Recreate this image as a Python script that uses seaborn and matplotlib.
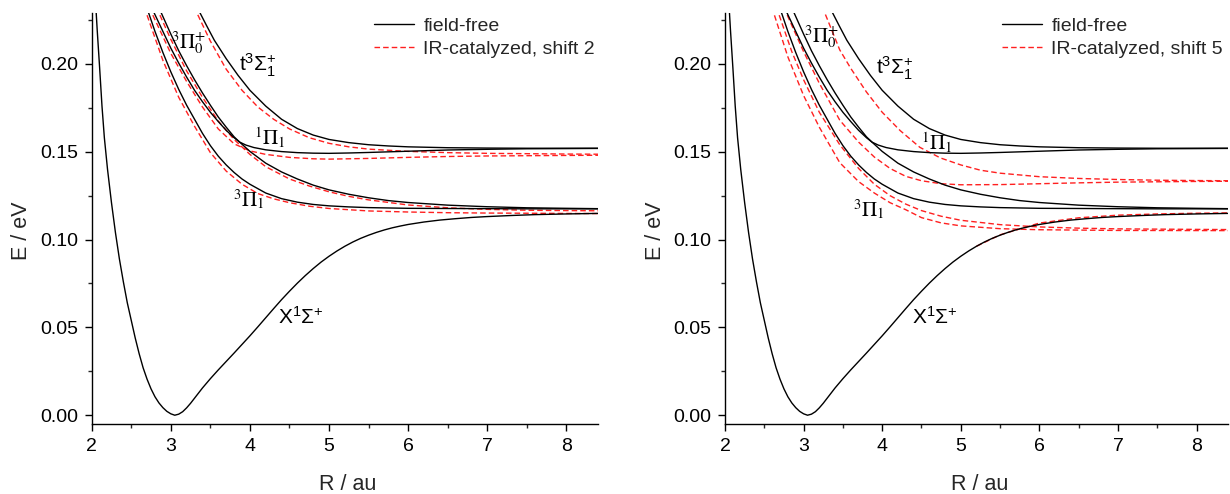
import matplotlib
matplotlib.use("Agg")
import matplotlib.pyplot as plt
import seaborn as sns
from matplotlib.lines import Line2D
from matplotlib.ticker import MultipleLocator, FormatStrFormatter

# ---------------- data ----------------
# ground state X1Sigma+ (same in both panels)
R_X = [2.04, 2.07, 2.1, 2.13, 2.16, 2.2, 2.25, 2.3, 2.35, 2.4, 2.45, 2.5, 2.55, 2.6, 2.65,
       2.7, 2.75, 2.8, 2.85, 2.9, 2.95, 3.0, 3.05, 3.1, 3.15, 3.2, 3.25, 3.3, 3.4, 3.5, 3.6,
       3.7, 3.8, 3.9, 4.0, 4.1, 4.2, 4.3, 4.4, 4.5, 4.6, 4.7, 4.8, 4.9, 5.0, 5.1, 5.2, 5.3,
       5.4, 5.5, 5.6, 5.7, 5.8, 5.9, 6.0, 6.2, 6.4, 6.6, 6.8, 7.0, 7.3, 7.6, 8.0, 8.4]
E_X = [0.242, 0.219, 0.198, 0.176, 0.158, 0.140, 0.121, 0.104, 0.089, 0.076, 0.064, 0.054,
       0.044, 0.035, 0.027, 0.0205, 0.015, 0.0105, 0.007, 0.0043, 0.0022, 0.0008, 0.0,
       0.0006, 0.002, 0.0042, 0.0068, 0.0097, 0.0155, 0.0208, 0.0258, 0.0306, 0.0354,
       0.0403, 0.0452, 0.0503, 0.0555, 0.0607, 0.0658, 0.0706, 0.0752, 0.0795, 0.0835,
       0.0872, 0.0905, 0.0935, 0.0962, 0.0986, 0.1007, 0.1025, 0.1041, 0.1055, 0.1067,
       0.1077, 0.1086, 0.110, 0.1111, 0.1119, 0.1126, 0.1131, 0.1137, 0.1142, 0.1146, 0.1149]

# field-free excited states
R_t = [3.25, 3.3, 3.37, 3.45, 3.55, 3.7, 3.85, 4.0, 4.2, 4.4, 4.6, 4.8, 5.0, 5.25, 5.5, 5.75,
       6.0, 6.5, 7.0, 7.5, 8.0, 8.4]
E_t = [0.240, 0.235, 0.229, 0.222, 0.2135, 0.203, 0.1935, 0.185, 0.176, 0.1685, 0.1632,
       0.1595, 0.157, 0.1552, 0.154, 0.1533, 0.1528, 0.1523, 0.1521, 0.152, 0.152, 0.152]

R_1P = [2.7, 2.79, 2.9, 3.0, 3.1, 3.2, 3.3, 3.4, 3.5, 3.6, 3.7, 3.8, 3.87, 3.95, 4.05, 4.2,
        4.4, 4.6, 4.8, 5.0, 5.25, 5.5, 6.0, 6.5, 7.0, 7.5, 8.0, 8.4]
E_1P = [0.238, 0.229, 0.2185, 0.209, 0.2005, 0.1925, 0.185, 0.1785, 0.1725, 0.1672, 0.1622,
        0.158, 0.1555, 0.1538, 0.1524, 0.1511, 0.1501, 0.1495, 0.1492, 0.1491, 0.1493,
        0.1496, 0.1503, 0.151, 0.1514, 0.1517, 0.1518, 0.1519]

R_3P0 = [2.8, 2.88, 3.0, 3.1, 3.2, 3.3, 3.4, 3.5, 3.6, 3.7, 3.8, 3.87, 4.0, 4.2, 4.4, 4.6,
         4.8, 5.0, 5.25, 5.5, 5.75, 6.0, 6.5, 7.0, 7.5, 8.0, 8.4]
E_3P0 = [0.238, 0.229, 0.217, 0.2075, 0.199, 0.191, 0.1835, 0.1765, 0.1698, 0.164, 0.1585,
         0.1555, 0.1502, 0.1435, 0.1385, 0.1345, 0.131, 0.1283, 0.1258, 0.1238, 0.1222,
         0.1211, 0.1196, 0.1187, 0.1181, 0.1178, 0.1176]

R_3P1 = [2.62, 2.72, 2.8, 2.9, 3.0, 3.1, 3.2, 3.3, 3.4, 3.5, 3.6, 3.7, 3.8, 3.9, 4.0, 4.2,
         4.4, 4.6, 4.8, 5.0, 5.25, 5.5, 6.0, 6.5, 7.0, 7.5, 8.0, 8.4]
E_3P1 = [0.242, 0.229, 0.2185, 0.2065, 0.1955, 0.1855, 0.1765, 0.1685, 0.1605, 0.1535,
         0.1475, 0.1425, 0.1382, 0.1345, 0.1315, 0.1265, 0.1233, 0.1213, 0.12, 0.1192,
         0.1186, 0.1182, 0.1178, 0.1177, 0.1176, 0.1175, 0.1175, 0.1175]

# IR-catalyzed, shift 2 (left panel)
R_s2_t = [3.2, 3.33, 3.5, 3.7, 3.9, 4.1, 4.3, 4.5, 4.75, 5.0, 5.25, 5.5, 6.0, 6.5, 7.0, 8.0, 8.4]
E_s2_t = [0.243, 0.229, 0.213, 0.197, 0.185, 0.1755, 0.1685, 0.163, 0.158, 0.1548, 0.1528,
          0.1515, 0.1502, 0.1495, 0.1491, 0.1487, 0.1486]
R_s2_1P = [2.65, 2.76, 3.0, 3.2, 3.4, 3.6, 3.8, 4.0, 4.2, 4.5, 4.8, 5.0, 5.5, 6.0, 6.5, 7.0,
           8.0, 8.4]
E_s2_1P = [0.243, 0.229, 0.206, 0.190, 0.1755, 0.163, 0.1545, 0.1505, 0.1485, 0.1468, 0.146,
           0.1458, 0.1462, 0.1468, 0.1473, 0.1476, 0.1479, 0.148]
R_s2_3P0 = [2.74, 2.85, 3.0, 3.2, 3.4, 3.6, 3.8, 4.0, 4.2, 4.5, 4.75, 5.0, 5.25, 5.5, 6.0, 6.5,
            7.0, 7.5, 8.0, 8.4]
E_s2_3P0 = [0.243, 0.229, 0.214, 0.196, 0.181, 0.1675, 0.157, 0.1485, 0.1415, 0.1345, 0.1305,
            0.1272, 0.1246, 0.1226, 0.1197, 0.1181, 0.1172, 0.1167, 0.1165, 0.1164]
R_s2_3P1 = [2.58, 2.69, 2.9, 3.1, 3.3, 3.5, 3.7, 3.9, 4.1, 4.3, 4.5, 4.75, 5.0, 5.5, 6.0, 6.5,
            7.0, 8.4]
E_s2_3P1 = [0.243, 0.229, 0.202, 0.181, 0.1645, 0.1495, 0.139, 0.1315, 0.1262, 0.1232, 0.121,
            0.119, 0.1177, 0.1163, 0.1157, 0.1153, 0.1151, 0.1148]

# IR-catalyzed, shift 5 (right panel)
R_s5_t = [3.15, 3.27, 3.46, 3.6, 3.8, 4.0, 4.23, 4.48, 4.74, 5.0, 5.25, 5.5, 6.0, 6.5, 7.0,
          7.5, 8.0, 8.4]
E_s5_t = [0.240, 0.229, 0.208, 0.1975, 0.184, 0.1725, 0.162, 0.1525, 0.1465, 0.1425, 0.1395,
          0.1378, 0.1358, 0.1348, 0.1342, 0.1338, 0.1336, 0.1335]
R_s5_1P = [2.65, 2.78, 3.0, 3.2, 3.46, 3.7, 3.9, 4.1, 4.3, 4.5, 4.75, 5.0, 5.5, 6.0, 6.5, 7.0,
           8.0, 8.4]
E_s5_1P = [0.245, 0.229, 0.207, 0.189, 0.168, 0.1555, 0.147, 0.1405, 0.136, 0.1335, 0.1318,
           0.1312, 0.1313, 0.1318, 0.1323, 0.1327, 0.1331, 0.1332]
R_s5_3P0 = [2.55, 2.68, 2.85, 3.0, 3.2, 3.46, 3.7, 3.9, 4.1, 4.3, 4.5, 4.75, 5.0, 5.5, 6.0,
            6.5, 7.0, 8.0, 8.4]
E_s5_3P0 = [0.245, 0.229, 0.207, 0.191, 0.1725, 0.154, 0.1405, 0.1315, 0.125, 0.1202, 0.1165,
            0.1133, 0.111, 0.1085, 0.1072, 0.1065, 0.1061, 0.1058, 0.1057]
R_s5_3P1 = [2.5, 2.62, 2.8, 3.0, 3.2, 3.46, 3.7, 3.9, 4.1, 4.3, 4.5, 4.75, 5.0, 5.5, 6.0, 7.0,
            8.4]
E_s5_3P1 = [0.245, 0.229, 0.204, 0.182, 0.164, 0.1438, 0.133, 0.1265, 0.121, 0.117, 0.1125,
            0.1095, 0.1078, 0.1062, 0.1056, 0.1052, 0.1051]
R_s5_X = [5.2, 5.5, 6.0, 6.5, 7.0, 7.5, 8.0, 8.4]
E_s5_X = [0.0962, 0.1027, 0.1094, 0.1124, 0.1139, 0.1146, 0.1150, 0.1152]

x_ticks = [2, 3, 4, 5, 6, 7, 8]
y_ticks = [0.00, 0.05, 0.10, 0.15, 0.20]
legend_labels_left = ["field-free", "IR-catalyzed, shift 2"]
legend_labels_right = ["field-free", "IR-catalyzed, shift 5"]

# ---------------- style ----------------
sns.set_style("ticks")
plt.rcParams["font.family"] = ["Liberation Sans", "DejaVu Sans"]
plt.rcParams["mathtext.fontset"] = "custom"
plt.rcParams["mathtext.rm"] = "Liberation Sans"
plt.rcParams["mathtext.it"] = "Liberation Sans:italic"
plt.rcParams["mathtext.bf"] = "Liberation Sans:bold"

W, H = 1230, 494
fig = plt.figure(figsize=(W / 100, H / 100), dpi=100)
top_px, bot_px = 13, 424
axL = fig.add_axes([91.7 / W, 1 - bot_px / H, (598 - 91.7) / W, (bot_px - top_px) / H])
axR = fig.add_axes([725 / W, 1 - bot_px / H, (1228 - 725) / W, (bot_px - top_px) / H])

ff = [(R_X, E_X), (R_t, E_t), (R_1P, E_1P), (R_3P0, E_3P0), (R_3P1, E_3P1)]
shifted = {
    "L": [(R_s2_t, E_s2_t), (R_s2_1P, E_s2_1P), (R_s2_3P0, E_s2_3P0), (R_s2_3P1, E_s2_3P1)],
    "R": [(R_s5_t, E_s5_t), (R_s5_1P, E_s5_1P), (R_s5_3P0, E_s5_3P0), (R_s5_3P1, E_s5_3P1),
          (R_s5_X, E_s5_X)],
}

red = "#ff2020"
dash = (0, (4, 2.2))
for key, ax in (("L", axL), ("R", axR)):
    for Rv, Ev in shifted[key]:
        sns.lineplot(x=Rv, y=Ev, ax=ax, color=red, linewidth=1.0, linestyle=dash,
                     estimator=None, sort=False, legend=False)
    for Rv, Ev in ff:
        sns.lineplot(x=Rv, y=Ev, ax=ax, color="black", linewidth=1.0,
                     estimator=None, sort=False, legend=False)

    ax.set_xlim(2, 8.4)
    ax.set_ylim(-0.005, 0.229)
    ax.set_xticks(x_ticks)
    ax.set_yticks(y_ticks)
    ax.xaxis.set_minor_locator(MultipleLocator(0.5))
    ax.yaxis.set_minor_locator(MultipleLocator(0.025))
    ax.yaxis.set_major_formatter(FormatStrFormatter("%.2f"))
    ax.tick_params(which="major", direction="out", length=5, width=1, labelsize=14,
                   colors="black", pad=5)
    ax.tick_params(which="minor", direction="out", length=3, width=1)
    for s in ("top", "right"):
        ax.spines[s].set_visible(False)
    for s in ("left", "bottom"):
        ax.spines[s].set_linewidth(1.0)
        ax.spines[s].set_color("black")
    ax.set_xlabel("R / au", fontsize=15.5)
    ax.set_ylabel("E / eV", fontsize=15.5)
    ax.xaxis.set_label_coords(0.506, -0.122)
    ax.yaxis.set_label_coords(-0.118, 0.47)

    handles = [Line2D([], [], color="black", lw=1.0),
               Line2D([], [], color=red, lw=1.0, linestyle=dash)]
    if key == "L":
        labels, anchor = legend_labels_left, (0.994, 0.99)
    else:
        labels, anchor = legend_labels_right, (0.99, 0.99)
    ax.legend(handles, labels, loc="upper right", bbox_to_anchor=anchor, frameon=False,
              fontsize=14, handlelength=2.05, handletextpad=0.5, labelspacing=0.28,
              borderaxespad=0.0, borderpad=0.0)

# state labels
lab = dict(fontsize=15, color="black")
axL.text(3.0, 0.209, r"$^{3}\Pi_{0}^{+}$", math_fontfamily="stix", **lab)
axL.text(3.86, 0.196, r"$\mathrm{t}^{3}\Sigma_{1}^{+}$", **lab)
axL.text(4.05, 0.1535, r"$^{1}\Pi_{1}$", math_fontfamily="stix", **lab)
axL.text(3.78, 0.1185, r"$^{3}\Pi_{1}$", math_fontfamily="stix", **lab)
axL.text(4.35, 0.052, r"$\mathrm{X}^{1}\Sigma^{+}$", **lab)

axR.text(3.0, 0.212, r"$^{3}\Pi_{0}^{+}$", math_fontfamily="stix", **lab)
axR.text(3.92, 0.194, r"$\mathrm{t}^{3}\Sigma_{1}^{+}$", **lab)
axR.text(4.5, 0.151, r"$^{1}\Pi_{1}$", math_fontfamily="stix", **lab)
axR.text(3.63, 0.113, r"$^{3}\Pi_{1}$", math_fontfamily="stix", **lab)
axR.text(4.38, 0.052, r"$\mathrm{X}^{1}\Sigma^{+}$", **lab)

fig.savefig("out.png", dpi=100)
